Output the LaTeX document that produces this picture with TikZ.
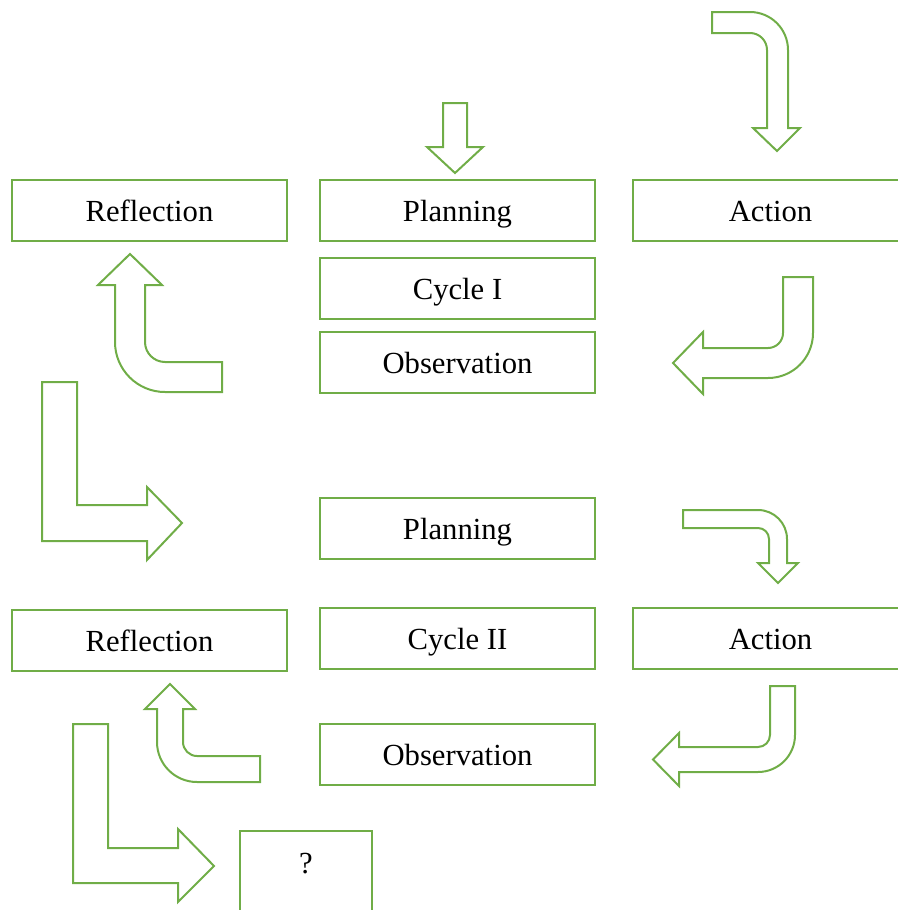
\documentclass[tikz,border=0pt]{standalone}
\usepackage{fontspec}
\setmainfont{Liberation Serif}
\usepackage{tikz}

\definecolor{leafgreen}{RGB}{112,173,71}

\tikzset{
  stage/.style={draw=leafgreen, line width=1.5pt, minimum width=206.25pt,
    minimum height=45.75pt, inner sep=0pt, text height=21pt, text depth=5pt,
    font=\fontsize{23}{27}\selectfont},
  bigarrow/.style={draw=leafgreen, line width=1.5pt, line join=miter}
}

\begin{document}
\begin{tikzpicture}[x=0.75pt,y=-0.75pt]

  \useasboundingbox (0,0) rectangle (898,910);
  \clip (0,0) rectangle (898,910);

  % cycle I
  \node[stage] (refl1) at (149.5,210.5) {Reflection};
  \node[stage] (plan1) at (457.5,210.5) {Planning};
  \node[stage] (act1)  at (770.5,210.5) {Action};
  \node[stage] (cyc1)  at (457.5,288.5) {Cycle I};
  \node[stage] (obs1)  at (457.5,362.5) {Observation};

  % cycle II
  \node[stage] (plan2) at (457.5,528.5) {Planning};
  \node[stage] (refl2) at (149.5,640.5) {Reflection};
  \node[stage] (cyc2)  at (457.5,638.5) {Cycle II};
  \node[stage] (act2)  at (770.5,638.5) {Action};
  \node[stage] (obs2)  at (457.5,754.5) {Observation};

  % next cycle
  \draw[bigarrow] (240,940) -- (240,831) -- (372,831) -- (372,940);
  \node[font=\fontsize{23}{27}\selectfont] (next) at (306,864) {?};

  % into planning I
  \draw[bigarrow] (443,103) -- (467,103) -- (467,147) -- (483,147)
    -- (455,173) -- (427,147) -- (443,147) -- cycle;

  % into action I
  \draw[bigarrow] (712,12) -- (750,12) arc[start angle=270, end angle=360, radius=38]
    -- (788,128) -- (800,128) -- (777,151) -- (753,128) -- (767,128)
    -- (767,50) arc[start angle=0, end angle=-90, radius=17] -- (712,33) -- cycle;

  % action I to observation I
  \draw[bigarrow] (783,277) -- (813,277) -- (813,333) arc[start angle=0, end angle=90, radius=45]
    -- (703,378) -- (703,394) -- (673,363) -- (703,332) -- (703,348)
    -- (768,348) arc[start angle=90, end angle=0, radius=15] -- cycle;

  % observation I to reflection I
  \draw[bigarrow] (222,392) -- (165,392) arc[start angle=90, end angle=180, radius=50]
    -- (115,285) -- (98,285) -- (130,254) -- (162,285) -- (145,285)
    -- (145,342) arc[start angle=180, end angle=90, radius=20] -- (222,362) -- cycle;

  % reflection I to planning II
  \draw[bigarrow] (42,382) -- (77,382) -- (77,505) -- (147,505) -- (147,487)
    -- (182,523) -- (147,560) -- (147,541) -- (42,541) -- cycle;

  % planning II to action II
  \draw[bigarrow] (683,510) -- (758,510) arc[start angle=270, end angle=360, radius=29]
    -- (787,563) -- (798,563) -- (778,583) -- (758,563) -- (769,563)
    -- (769,539) arc[start angle=0, end angle=-90, radius=11] -- (683,528) -- cycle;

  % action II to observation II
  \draw[bigarrow] (770,686) -- (795,686) -- (795,735) arc[start angle=0, end angle=90, radius=37]
    -- (679,772) -- (679,786) -- (653,759.5) -- (679,733) -- (679,747)
    -- (758,747) arc[start angle=90, end angle=0, radius=12] -- cycle;

  % observation II to reflection II
  \draw[bigarrow] (260,782) -- (197,782) arc[start angle=90, end angle=180, radius=40]
    -- (157,709) -- (145,709) -- (170,684) -- (195,709) -- (183,709)
    -- (183,742) arc[start angle=180, end angle=90, radius=14] -- (260,756) -- cycle;

  % reflection II to next
  \draw[bigarrow] (73,724) -- (108,724) -- (108,848) -- (178,848) -- (178,829)
    -- (214,866) -- (178,902) -- (178,883) -- (73,883) -- cycle;

\end{tikzpicture}
\end{document}
